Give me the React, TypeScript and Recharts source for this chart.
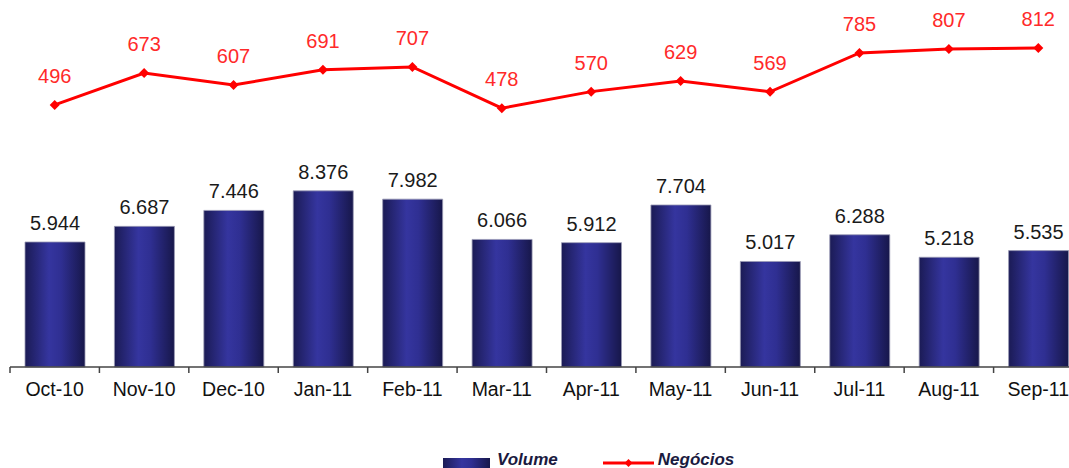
import { ComposedChart, Bar, Line, XAxis, YAxis, LabelList, Legend } from 'recharts'

const months = ['Oct-10', 'Nov-10', 'Dec-10', 'Jan-11', 'Feb-11', 'Mar-11', 'Apr-11', 'May-11', 'Jun-11', 'Jul-11', 'Aug-11', 'Sep-11']
const volume = [5.944, 6.687, 7.446, 8.376, 7.982, 6.066, 5.912, 7.704, 5.017, 6.288, 5.218, 5.535]
const negocios = [496, 673, 607, 691, 707, 478, 570, 629, 569, 785, 807, 812]
const legendOrder = ['volume', 'negocios']

const data = months.map((month, i) => ({ month, volume: volume[i], negocios: negocios[i] }))

const CHART_W = 1100
const CHART_H = 480
const MARGIN = { top: 20, right: 17, left: 10, bottom: 0 }
const BAND = (CHART_W - MARGIN.left - MARGIN.right) / months.length
const FONT = '"Liberation Sans", Arial, sans-serif'

function MonthTick(props: any) {
  const { x, y, payload } = props
  // boundary tick between categories, axis line sits 15px above the label
  return (
    <g>
      <line x1={x - BAND / 2} x2={x - BAND / 2} y1={y - 15} y2={y - 9} stroke="#444" strokeWidth={1.5} />
      <text x={x} y={y} dy="0.71em" textAnchor="middle" fontSize={19.5} fill="#111" fontFamily={FONT}>
        {payload.value}
      </text>
    </g>
  )
}

function Diamond(props: any) {
  const { cx, cy } = props
  if (cx == null || cy == null) return null
  return <polygon points={`${cx},${cy - 5} ${cx + 5},${cy} ${cx},${cy + 5} ${cx - 5},${cy}`} fill="#ff0000" />
}

function LegendContent(props: any) {
  const payload = [...(props.payload || [])].sort(
    (a: any, b: any) => legendOrder.indexOf(a.dataKey) - legendOrder.indexOf(b.dataKey)
  )
  return (
    <div style={{ display: 'flex', marginLeft: 433, fontFamily: FONT, fontSize: 17, fontWeight: 'bold', fontStyle: 'italic', lineHeight: '20px', color: '#1a1a40' }}>
      {payload.map((item: any) => (
        <div key={item.value} style={{ display: 'flex', alignItems: 'flex-start', marginRight: 45 }}>
          {item.dataKey === 'volume' ? (
            <svg width={47} height={20} style={{ marginRight: 7 }}>
              <rect x={0} y={8} width={47} height={14} fill="url(#barGrad)" />
            </svg>
          ) : (
            <svg width={51} height={20} style={{ marginRight: 4 }}>
              <line x1={0} x2={51} y1={13} y2={13} stroke="#ff0000" strokeWidth={3} />
              <polygon points="25.5,9 29.5,13 25.5,17 21.5,13" fill="#ff0000" />
            </svg>
          )}
          <span>{item.value}</span>
        </div>
      ))}
    </div>
  )
}

export default function App() {
  return (
    <div style={{ position: 'absolute', left: 0, top: 0, width: 1069, height: 468, overflow: 'hidden', background: '#fff', fontFamily: FONT }}>
      <ComposedChart width={CHART_W} height={CHART_H} data={data} margin={MARGIN}>
        <defs>
          <linearGradient id="barGrad" x1="0" y1="0" x2="1" y2="0">
            <stop offset="0%" stopColor="#1b1b55" />
            <stop offset="40%" stopColor="#35359f" />
            <stop offset="60%" stopColor="#2f2f92" />
            <stop offset="100%" stopColor="#17174a" />
          </linearGradient>
        </defs>
        <XAxis
          dataKey="month"
          height={83}
          axisLine={{ stroke: '#444', strokeWidth: 1.5 }}
          tickLine={false}
          tickSize={0}
          tickMargin={15}
          tick={<MonthTick />}
          interval={0}
        />
        <YAxis yAxisId="bar" hide domain={[0, 16.5]} />
        <YAxis yAxisId="line" hide domain={[-960, 968]} />
        <Legend verticalAlign="bottom" height={30} content={<LegendContent />} />
        <Bar yAxisId="bar" dataKey="volume" name="Volume" barSize={60} fill="url(#barGrad)" stroke="#9a9ab5" strokeWidth={0.8} isAnimationActive={false}>
          <LabelList dataKey="volume" position="top" offset={12} fontSize={20} fill="#1a1a1a" formatter={(v: any) => Number(v).toFixed(3)} />
        </Bar>
        <Line
          yAxisId="line"
          type="linear"
          dataKey="negocios"
          name="Negócios"
          stroke="#ff0000"
          strokeWidth={3}
          dot={<Diamond />}
          activeDot={false}
          isAnimationActive={false}
        >
          <LabelList dataKey="negocios" position="top" offset={22} fontSize={20} fill="#ff2a2a" />
        </Line>
      </ComposedChart>
    </div>
  )
}
